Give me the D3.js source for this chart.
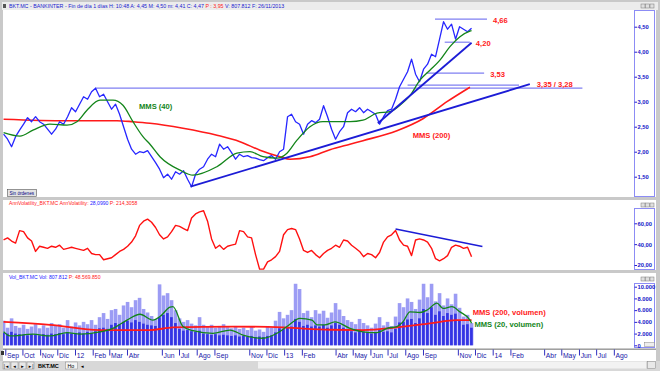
<!DOCTYPE html>
<html>
<head>
<meta charset="utf-8">
<script src="https://cdn.jsdelivr.net/npm/d3@7"></script>
<style>
  body { margin: 0; background: #c9c9c9; }
  svg { display: block; font-family: "Liberation Sans", Arial, sans-serif; }
</style>
</head>
<body>
<svg id="chart" width="660" height="371"></svg>
<script>
// una muestra por semana, desde el lunes 29/08/2011
var weekStart = new Date(2011, 7, 29);

var price = [2.35,2.25,2.10,2.30,2.43,2.55,2.68,2.60,2.70,2.60,
  2.55,2.45,2.35,2.45,2.60,2.55,2.70,2.88,2.80,2.95,
  3.10,3.05,3.20,3.27,3.10,3.15,3.00,2.85,2.95,2.75,
  2.50,2.25,2.05,1.95,2.00,1.98,2.02,1.90,1.78,1.65,
  1.48,1.55,1.45,1.60,1.55,1.62,1.45,1.30,1.55,1.65,
  1.70,1.85,1.95,1.90,2.15,2.05,2.10,1.98,1.85,1.95,
  1.90,1.92,1.88,1.87,1.84,1.82,1.88,1.92,1.85,2.00,
  2.05,2.70,2.75,2.60,2.55,2.35,2.55,2.62,2.58,2.65,
  2.92,2.70,2.45,2.25,2.40,2.50,2.78,2.85,2.80,2.88,
  2.78,2.85,2.80,2.75,2.55,2.70,2.82,2.85,3.05,3.30,
  3.45,3.60,3.85,3.55,3.40,3.65,3.75,3.95,3.90,4.25,
  4.60,4.45,4.55,4.25,4.50,4.45,4.40,4.47];

var annVol = [44,46,43,41,53,52,46,43,33,38,
  37,36,38,37,39,35,36,37,36,35,
  34,36,31,30,30,25,26,27,30,33,
  35,38,42,48,58,62,64,61,56,49,
  45,47,52,58,57,55,53,65,69,71,
  72,62,45,36,39,35,38,39,40,53,
  52,47,46,30,16,16,23,25,28,33,
  49,54,55,54,45,34,32,34,30,27,
  31,34,36,39,37,44,43,39,36,33,
  28,31,30,27,32,42,47,49,53,44,
  39,38,29,44,45,44,42,36,26,24,
  26,29,37,39,38,36,37,28];

// volumen (miles): pico de la semana y nivel habitual
var volHigh = [4200,3000,4600,3300,3000,3500,2800,3200,3600,2900,
  3400,3000,3800,3300,3600,3000,4300,3200,3900,3400,
  4000,3600,4300,3500,4800,5500,4500,6000,6200,5200,
  6800,7400,6500,7700,8100,6200,5600,5000,4500,10400,
  8500,8900,7700,6000,4600,4000,4300,3700,3400,4800,
  3500,3200,3500,3000,3300,3600,3100,2900,3300,2800,
  3000,2600,3100,2500,2700,2300,3200,3000,4200,5700,
  4600,5200,6000,10500,9600,5500,5900,4800,6000,5400,
  5900,4700,5600,7200,6100,5000,4300,4000,3600,4500,
  3800,3400,3000,3700,4800,3400,4000,3300,4900,7200,
  6500,8000,7400,6200,7800,10500,8200,10500,7500,8900,
  6800,8000,7000,8800,6400,4900,5200,3800];
var volBody = [2100,2000,2300,2000,1900,1800,1700,1900,1800,1700,
  1900,1800,2000,1900,2100,1900,2200,2000,2100,2200,
  2000,2300,2100,2400,2900,3000,2800,3500,3800,3600,
  4000,4200,3900,4300,4000,3700,3500,3400,3300,4800,
  5200,5500,4800,3800,2800,2500,2600,2400,2300,2500,
  2000,1900,1800,1900,1700,1800,1700,1600,1700,1500,
  1600,1500,1600,1400,1500,1400,1600,1700,2200,2900,
  2800,3000,3200,4500,4000,3300,3500,3200,3400,3200,
  3500,3000,3400,3800,3500,3000,2600,2400,2200,2500,
  2300,2200,2000,2200,2600,2300,2400,2200,2800,3900,
  4000,4400,4500,3800,4600,6200,5500,6500,5200,5800,
  5000,5500,5200,5400,4300,3500,3600,3000];

// medias moviles: [semana, valor]
var mms40 = [[0,2.38],[4.1,2.31],[7.35,2.43],[11.6,2.55],[15.85,2.53],[18.35,2.6],[20.85,2.83],
  [24.1,3.03],[27.35,3.03],[29.85,2.93],[32.35,2.6],[34.85,2.3],[36.6,2.15],[39.1,1.9],[44.1,1.63],
  [47.35,1.53],[53.35,1.7],[58.35,1.97],[61.6,2.0],[64.85,1.9],[68.35,1.87],[70.85,1.97],[73.35,2.23],
  [76.6,2.5],[79.85,2.6],[86.6,2.6],[89.85,2.63],[93.35,2.77],[96.6,2.8],[99.1,2.93],[101.6,3.12],
  [104.1,3.43],[106.6,3.63],[109.1,3.83],[111.6,4.1],[114.1,4.3],[116.6,4.41],[117,4.42]];
var mms200 = [[0,2.65],[15.85,2.62],[28.35,2.62],[32.35,2.6],[36.6,2.57],[44.85,2.47],[53.35,2.33],
  [59.1,2.2],[64.1,2.03],[69.1,1.9],[71.6,1.85],[76.6,1.9],[81.6,2.04],[86.6,2.15],[89.85,2.22],
  [98.35,2.42],[104.85,2.66],[110.85,3.0],[116.6,3.29]];
var volMms20 = [[0,2300],[1.6,1600],[7.35,1900],[11.6,1600],[15.85,2150],[19.1,1900],[24.1,2300],
  [27.35,2900],[30.85,4300],[34.1,5300],[37.35,4300],[39.1,4900],[41.6,6500],[42.35,6600],[44.85,3200],
  [47.35,2500],[52.35,2050],[56.6,2600],[59.85,1750],[64.85,1200],[68.35,2050],[70.85,3200],[74.1,4600],
  [77.1,4300],[78.35,3500],[80.35,3500],[82.85,4000],[86.6,2900],[89.85,2300],[93.35,2150],[95.85,2900],
  [98.35,3200],[99.85,4000],[101.6,5700],[104.1,5600],[105.85,6000],[108.35,7200],[109.85,6300],
  [112.1,6600],[114.1,5700],[116.6,4300],[117,3750]];
var volMms200 = [[0,4000],[11.6,3500],[24.1,2600],[36.6,2600],[42.35,3050],[57.35,3200],[69.85,3050],
  [81.6,2650],[89.85,2600],[98.35,3050],[106.6,3750],[113.35,4300],[117,4300]];

// lineas dibujadas sobre el grafico: [fecha, valor]
var trendLong = [["2012-07-21",1.30],["2014-03-07",3.35]];
var trendShort = [["2013-06-14",2.57],["2013-11-25",4.18]];
var volTrend = [["2013-07-15",54.5],["2013-12-14",37.7]];
var levels = [
  { value: 4.65, from: "2013-09-22", to: "2013-12-22", label: "4,66" },
  { value: 4.19, from: "2013-10-09", to: "2013-11-22", label: "4,20" },
  { value: 3.57, from: "2013-09-07", to: "2013-12-17", label: "3,53" },
  { value: 3.33, from: "2013-08-05", to: "2014-02-16", label: "" },
  { value: 3.27, from: "2012-02-05", to: "2014-06-07", label: "" }
];

var monthTicks = [["2011-09-01","Sep"],["2011-10-01","Oct"],["2011-11-01","Nov"],["2011-12-01","Dic"],
  ["2012-01-01","12"],["2012-02-01","Feb"],["2012-03-01","Mar"],["2012-04-01","Abr"],["2012-06-01","Jun"],
  ["2012-07-01","Jul"],["2012-08-01","Ago"],["2012-09-01","Sep"],["2012-11-01","Nov"],["2012-12-01","Dic"],
  ["2013-01-01","13"],["2013-02-01","Feb"],["2013-04-01","Abr"],["2013-05-01","May"],["2013-06-01","Jun"],
  ["2013-07-01","Jul"],["2013-08-01","Ago"],["2013-09-01","Sep"],["2013-11-01","Nov"],["2013-12-01","Dic"],
  ["2014-01-01","14"],["2014-02-01","Feb"],["2014-04-01","Abr"],["2014-05-01","May"],["2014-06-01","Jun"],
  ["2014-07-01","Jul"],["2014-08-01","Ago"]];

var priceTicks = [1, 1.5, 2, 2.5, 3, 3.5, 4, 4.5];
var volaTicks = [20, 40, 60];
var volumeTicks = [0, 2000, 4000, 6000, 8000, 10000];

var parseDate = d3.timeParse("%Y-%m-%d");
function weekDate(w){ return new Date(weekStart.getTime() + w * 7 * 864e5); }

var svg = d3.select("#chart");
var W = 660, H = 371;
var left = 3, right = 634;
var p1 = {top: 10, bottom: 197}, p2 = {top: 200, bottom: 270}, p3 = {top: 273, bottom: 348};

var x = d3.scaleTime()
  .domain([new Date(2012, 0, 1), new Date(2014, 0, 1)])
  .range([75, 492.7]);
var yP = d3.scaleLinear().domain([1, 4.5]).range([201.7, 26.7]);
var yV = d3.scaleLinear().domain([20, 60]).range([265, 223.3]);
var yQ = d3.scaleLinear().domain([0, 10000]).range([345.3, 286.7]);

var commaFmt = function(d){ return d3.format(".2f")(d).replace(".", ","); };
var dotFmt = function(d){ return d3.format(",")(d).replace(/,/g, "."); };

// fondo y marcos
svg.append("rect").attr("width", W).attr("height", H).attr("fill", "#c9c9c9");
svg.append("rect").attr("x", 2).attr("y", 2).attr("width", 656).attr("height", 8).attr("fill", "#ececec");
svg.append("rect").attr("x", 3).attr("y", 4).attr("width", 3).attr("height", 4).attr("fill", "#555");

var title = svg.append("text").attr("x", 9).attr("y", 8.2).attr("font-size", 5.3).attr("fill", "#1a1ad0");
title.append("tspan").text("BKT.MC - BANKINTER - Fin de día 1 días H: 10:48  A: 4,45  M: 4,50  m: 4,41  C: 4,47 ");
title.append("tspan").attr("fill", "#ff2020").text("P : 3,95 ");
title.append("tspan").text(" V: 807.812  F: 26/11/2013");

[p1, p2, p3].forEach(function(p){
  svg.append("rect").attr("x", left).attr("y", p.top).attr("width", 653).attr("height", p.bottom - p.top)
    .attr("fill", "#fff");
});
svg.append("rect").attr("x", left).attr("y", 349).attr("width", 653).attr("height", 12).attr("fill", "#fff");
svg.append("line").attr("x1", left).attr("x2", 656).attr("y1", 349.5).attr("y2", 349.5).attr("stroke", "#a0a0a0");

// botones de ventana de cada panel
[p1.top - 6, p2.top + 3, p3.top + 4].forEach(function(yy){
  [641, 645.5, 650].forEach(function(bx){
    svg.append("rect").attr("x", bx).attr("y", yy).attr("width", 4).attr("height", 4)
      .attr("fill", "#e0e0e0").attr("stroke", "#777").attr("stroke-width", 0.5);
  });
});

function clipFor(id, p){
  svg.append("clipPath").attr("id", id).append("rect")
    .attr("x", left).attr("y", p.top).attr("width", right - left).attr("height", p.bottom - p.top);
  return svg.append("g").attr("clip-path", "url(#" + id + ")");
}

// ---------- panel 1: cotizacion ----------
var g1 = clipFor("c1", p1);

var line = d3.line()
  .x(function(d){ return x(d.date); })
  .y(function(d){ return yP(d.value); });
var maLine = d3.line().curve(d3.curveMonotoneX)
  .x(function(d){ return x(weekDate(d[0])); })
  .y(function(d){ return yP(d[1]); });

levels.forEach(function(l){
  g1.append("line")
    .attr("x1", x(parseDate(l.from))).attr("x2", x(parseDate(l.to)))
    .attr("y1", yP(l.value)).attr("y2", yP(l.value))
    .attr("stroke", "#7f7ff2").attr("stroke-width", 1.2);
});

g1.append("path").attr("fill", "none").attr("stroke", "#ff1a1a").attr("stroke-width", 1.6)
  .attr("d", maLine(mms200));

var priceData = price.map(function(v, i){ return {date: weekDate(i), value: v}; });
g1.append("path").attr("fill", "none").attr("stroke", "#2626ff").attr("stroke-width", 1.3)
  .attr("stroke-linejoin", "round").attr("d", line(priceData));

g1.append("path").attr("fill", "none").attr("stroke", "#13851a").attr("stroke-width", 1.3)
  .attr("d", maLine(mms40));

var trendLine = d3.line()
  .x(function(d){ return x(parseDate(d[0])); })
  .y(function(d){ return yP(d[1]); });
[trendLong, trendShort].forEach(function(t){
  g1.append("path").attr("fill", "none").attr("stroke", "#1c1cd6").attr("stroke-width", 1.8)
    .attr("d", trendLine(t));
});

function redLabel(g, xx, yy, txt, color){
  g.append("text").attr("x", xx).attr("y", yy).attr("font-size", 7.6).attr("font-weight", "bold")
    .attr("fill", color || "#ff2020").text(txt);
}
levels.forEach(function(l){
  if (l.label) redLabel(svg, x(parseDate(l.to)) + 6, yP(l.value) + 3.8, l.label);
});
var tEnd = trendLong[1];
redLabel(svg, x(parseDate(tEnd[0])) + 7, yP(tEnd[1]) + 3, "3,35 / 3,28");
redLabel(svg, x(parseDate("2012-04-22")), yP(2.85), "MMS (40)", "#13851a");
redLabel(svg, x(parseDate("2013-08-14")), yP(2.27), "MMS (200)");

// boton "Sin ordenes"
svg.append("rect").attr("x", 7.5).attr("y", 189.5).attr("width", 29).attr("height", 7)
  .attr("fill", "#e4e4e4").attr("stroke", "#555").attr("stroke-width", 0.6);
svg.append("text").attr("x", 9.5).attr("y", 195).attr("font-size", 4.6).attr("fill", "#000080").text("Sin órdenes");

// ---------- panel 2: volatilidad ----------
var g2 = clipFor("c2", p2);
var vt = svg.append("text").attr("x", 9).attr("y", 205).attr("font-size", 5.1).attr("fill", "#ff2020");
vt.append("tspan").text("AnnVolatility_BKT.MC AnnVolatility: ");
vt.append("tspan").attr("fill", "#2020ff").text("28,0990");
vt.append("tspan").text("  P: 214,3058");

var volaLine = d3.line()
  .x(function(d, i){ return x(weekDate(i)); })
  .y(function(d){ return yV(d); });
g2.append("path").attr("fill", "none").attr("stroke", "#ff1010").attr("stroke-width", 1.4)
  .attr("stroke-linejoin", "round").attr("d", volaLine(annVol));
g2.append("path").attr("fill", "none").attr("stroke", "#1c1cd6").attr("stroke-width", 1.5)
  .attr("d", d3.line()
    .x(function(d){ return x(parseDate(d[0])); })
    .y(function(d){ return yV(d[1]); })(volTrend));

// ---------- panel 3: volumen ----------
var g3 = clipFor("c3", p3);
var qt = svg.append("text").attr("x", 9).attr("y", 278.5).attr("font-size", 5.1).attr("fill", "#2020ff");
qt.append("tspan").text("Vol_BKT.MC  Vol: 807.812  ");
qt.append("tspan").attr("fill", "#ff2020").text("P: 48.569.850");

g3.selectAll(".vh").data(volHigh).enter().append("rect")
  .attr("x", function(d, i){ return x(weekDate(i)) - 1.8; })
  .attr("width", 3.6)
  .attr("y", function(d){ return yQ(d); })
  .attr("height", function(d){ return yQ(0) - yQ(d); })
  .attr("fill", "#9c9cf4");
g3.selectAll(".vb").data(volBody).enter().append("rect")
  .attr("x", function(d, i){ return x(weekDate(i)) - 1.5; })
  .attr("width", 2.7)
  .attr("y", function(d){ return yQ(d); })
  .attr("height", function(d){ return yQ(0) - yQ(d); })
  .attr("fill", "#3434e4");

var qLine = d3.line().curve(d3.curveMonotoneX)
  .x(function(d){ return x(weekDate(d[0])); })
  .y(function(d){ return yQ(d[1]); });
g3.append("path").attr("fill", "none").attr("stroke", "#ff1a1a").attr("stroke-width", 1.8).attr("d", qLine(volMms200));
g3.append("path").attr("fill", "none").attr("stroke", "#13851a").attr("stroke-width", 1.3).attr("d", qLine(volMms20));

redLabel(svg, x(parseDate("2013-11-27")), yQ(5170), "MMS (200, volumen)");
redLabel(svg, x(parseDate("2013-11-30")), yQ(3120), "MMS (20, volumen)", "#13851a");

// ---------- ejes de la derecha ----------
function rightAxis(scale, ticks, fmt, p, boxTop, id){
  svg.append("rect").attr("x", right + 0.5).attr("y", boxTop + 0.5).attr("width", 20)
    .attr("height", p.bottom - boxTop - 1).attr("fill", "#fff").attr("stroke", "#8c8cf5");
  svg.append("clipPath").attr("id", id).append("rect")
    .attr("x", right).attr("y", boxTop).attr("width", 22).attr("height", p.bottom - boxTop);
  var ax = svg.append("g").attr("clip-path", "url(#" + id + ")")
    .append("g").attr("transform", "translate(" + (right + 0.5) + ",0)")
    .call(d3.axisRight(scale).tickValues(ticks).tickFormat(fmt).tickSize(2.5).tickPadding(0.5));
  ax.select(".domain").remove();
  ax.selectAll("line").attr("stroke", "#2020d0");
  ax.selectAll("text").attr("fill", "#1515c8").attr("font-size", 5.8).attr("font-weight", "bold")
    .attr("font-family", "'Liberation Sans', Arial, sans-serif");
}
rightAxis(yP, priceTicks, commaFmt, p1, p1.top, "a1");
rightAxis(yV, volaTicks, commaFmt, p2, 208, "a2");
rightAxis(yQ, volumeTicks, dotFmt, p3, 283, "a3");
svg.append("rect").attr("x", 644.5).attr("y", 342.5).attr("width", 10).attr("height", 4)
  .attr("fill", "#eee").attr("stroke", "#888").attr("stroke-width", 0.5);

// ---------- eje de fechas ----------
svg.append("clipPath").attr("id", "cx").append("rect")
  .attr("x", left).attr("y", 349).attr("width", right - left).attr("height", 12);
var xAxis = svg.append("g").attr("clip-path", "url(#cx)")
  .append("g").attr("transform", "translate(0,349.5)")
  .call(d3.axisBottom(x)
    .tickValues(monthTicks.map(function(m){ return parseDate(m[0]); }))
    .tickFormat(function(d, i){ return monthTicks[i][1]; })
    .tickSize(6));
xAxis.select(".domain").remove();
xAxis.selectAll("line").attr("stroke", "#3030c0");
xAxis.selectAll("text").attr("fill", "#1818a8").attr("font-size", 6.8)
  .attr("font-family", "'Liberation Sans', Arial, sans-serif")
  .attr("text-anchor", "start").attr("x", 1.2).attr("y", 3.2).attr("dy", "0.71em");

// barra inferior con pestañas
svg.append("rect").attr("x", 0).attr("y", 361).attr("width", W).attr("height", 10).attr("fill", "#d8d8d8");
svg.append("rect").attr("x", 258).attr("y", 361.5).attr("width", 388).attr("height", 7).attr("fill", "#f2f2f2");
svg.append("rect").attr("x", 647.5).attr("y", 361.5).attr("width", 8).attr("height", 7)
  .attr("fill", "#e8e8e8").attr("stroke", "#888").attr("stroke-width", 0.5);
svg.append("rect").attr("x", 1).attr("y", 351).attr("width", 3).attr("height", 4).attr("fill", "#333");
["|◄", "◄", "►", "►|"].forEach(function(s, k){
  svg.append("rect").attr("x", 3 + k * 8).attr("y", 362).attr("width", 7).attr("height", 7)
    .attr("fill", "#e8e8e8").attr("stroke", "#888").attr("stroke-width", 0.5);
  svg.append("text").attr("x", 6.5 + k * 8).attr("y", 367.5).attr("text-anchor", "middle")
    .attr("font-size", 4.5).attr("fill", "#000").text(s);
});
svg.append("text").attr("x", 38).attr("y", 368).attr("font-size", 5.5).attr("font-weight", "bold").text("BKT.MC");
svg.append("rect").attr("x", 65.5).attr("y", 362).attr("width", 12).attr("height", 7)
  .attr("fill", "#f4f4f4").attr("stroke", "#888").attr("stroke-width", 0.5);
svg.append("text").attr("x", 67.5).attr("y", 368).attr("font-size", 5.3).text("Ho");
svg.append("text").attr("x", 80).attr("y", 368).attr("font-size", 4.5).text("◄");
</script>
</body>
</html>
